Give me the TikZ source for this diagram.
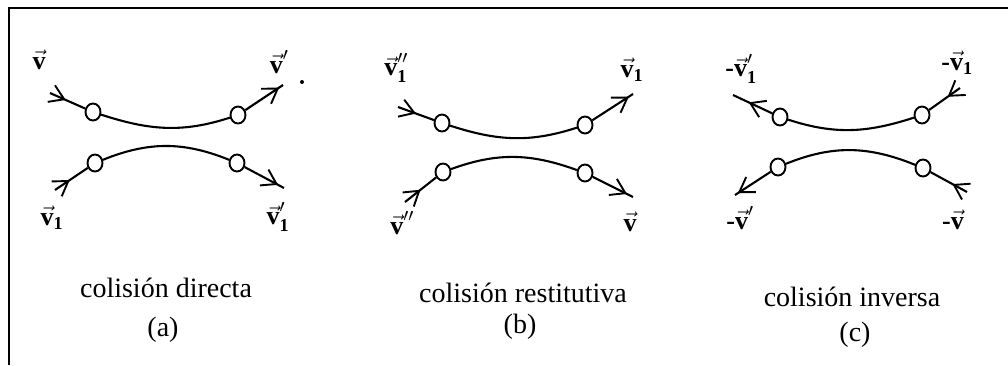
\RequirePackage{fix-cm}
\documentclass[tikz,border=0pt]{standalone}
\usepackage{amsmath}
\usepackage{fontspec}
\setmainfont{Liberation Serif}
\usetikzlibrary{arrows.meta,decorations.markings,shapes.geometric}
\newcommand{\vv}{\vec{\textbf{v}}}
\newcommand{\mn}{\textbf{-}}
\newcommand{\one}{\textbf{1}}
\tikzset{
  traj/.style={line width=2.1pt},
  ball/.style={ellipse, draw, line width=1.9pt, minimum width=15pt, minimum height=17pt, inner sep=0pt},
  arrowat/.style={postaction={decorate}, decoration={markings,
     mark=at position #1 with {\arrow{Straight Barb[length=14pt,width=18pt,line width=1.9pt]}}}},
  vlab/.style={inner sep=0pt, font=\fontsize{26}{28}\selectfont},
  captxt/.style={inner sep=0pt, font=\fontsize{28}{30}\selectfont}
}
\begin{document}
\begin{tikzpicture}[x=1pt,y=1pt]
\useasboundingbox (0,0) rectangle (1008,-365);
% frame
\coordinate (fb) at (9,-365);
\coordinate (fc) at (9,-8);
\coordinate (fr) at (1008,-8);
\draw[line width=1.8pt] (fb) -- (fc) -- (fr);

% ---------- panel (a)
\node[ball] (a1) at (93,-112) {};
\node[ball] (a2) at (238,-115) {};
\node[ball] (a3) at (95,-163) {};
\node[ball] (a4) at (237,-163) {};
\coordinate (a1s) at (50,-93);
\coordinate (a2e) at (283,-85);
\coordinate (a3s) at (55,-190);
\coordinate (a4e) at (284,-188);
\draw[traj, arrowat=0.45] (a1s) -- (a1);
\draw[traj] (a1) to[out=-18,in=198] (a2);
\draw[traj, arrowat=0.9] (a2) -- (a2e);
\draw[traj, arrowat=0.45] (a3s) -- (a3);
\draw[traj] (a3) to[out=22,in=158] (a4);
\draw[traj, arrowat=0.85] (a4) -- (a4e);
\node[vlab] (la1) at (39,-60) {$\vv$};
\node[vlab] (la2) at (279,-62) {$\vv^{\prime}$};
\fill (302,-82) circle (2pt);
\node[vlab] (la3) at (52,-218) {$\vv_{\one}$};
\node[vlab] (la4) at (278,-217) {$\vv_{\one}^{\prime}$};
\node[captxt] (ca) at (166,-288) {colisión directa};
\node[captxt] (pa) at (163,-330) {(a)};

% ---------- panel (b)
\node[ball] (b1) at (442,-123) {};
\node[ball] (b2) at (585,-125) {};
\node[ball] (b3) at (443,-172) {};
\node[ball] (b4) at (585,-173) {};
\coordinate (b1s) at (398,-107);
\coordinate (b2e) at (633,-94);
\coordinate (b3s) at (405,-202);
\coordinate (b4e) at (633,-197);
\draw[traj, arrowat=0.5] (b1s) -- (b1);
\draw[traj] (b1) to[out=-18,in=198] (b2);
\draw[traj, arrowat=0.9] (b2) -- (b2e);
\draw[traj, arrowat=0.5] (b3s) -- (b3);
\draw[traj] (b3) to[out=20,in=160] (b4);
\draw[traj, arrowat=0.85] (b4) -- (b4e);
\node[vlab] (lb1) at (396,-68) {$\vv_{\one}^{\prime\prime}$};
\node[vlab] (lb2) at (632,-70) {$\vv_{\one}$};
\node[vlab] (lb3) at (402,-223) {$\vv^{\prime\prime}$};
\node[vlab] (lb4) at (630,-222) {$\vv$};
\node[captxt] (cb) at (523,-293) {colisión restitutiva};
\node[captxt] (pb) at (520,-327) {(b)};

% ---------- panel (c)
\node[ball] (c1) at (780,-117) {};
\node[ball] (c2) at (922,-115) {};
\node[ball] (c3) at (778,-167) {};
\node[ball] (c4) at (923,-168) {};
\coordinate (c1e) at (733,-95);
\coordinate (c2s) at (960,-88);
\coordinate (c3e) at (735,-195);
\coordinate (c4s) at (967,-192);
\draw[traj, arrowat=0.6] (c1) -- (c1e);
\draw[traj] (c1) to[out=-18,in=198] (c2);
\draw[traj, arrowat=0.4] (c2s) -- (c2);
\draw[traj, arrowat=0.92] (c3) -- (c3e);
\draw[traj] (c3) to[out=22,in=158] (c4);
\draw[traj, arrowat=0.4] (c4s) -- (c4);
\node[vlab] (lc1) at (741,-69) {\mn$\vv_{\one}^{\prime}$};
\node[vlab] (lc2) at (957,-63) {\mn$\vv_{\one}$};
\node[vlab] (lc3) at (740,-218) {\mn$\vv^{\prime}$};
\node[vlab] (lc4) at (953,-220) {\mn$\vv$};
\node[captxt] (cc) at (852,-297) {colisión inversa};
\node[captxt] (pc) at (855,-335) {(c)};
\end{tikzpicture}
\end{document}
